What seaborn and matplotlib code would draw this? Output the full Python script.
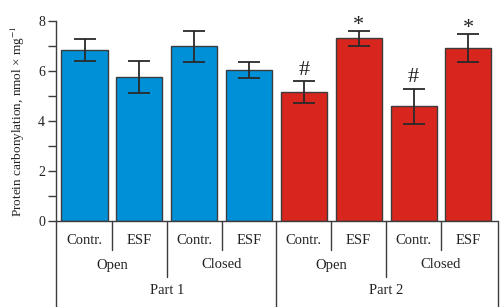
import numpy as np
import pandas as pd
import matplotlib
matplotlib.use("Agg")
import matplotlib.pyplot as plt
import matplotlib.transforms as mtransforms
from matplotlib.ticker import MultipleLocator
import seaborn as sns

# values
groups = ["Contr.", "ESF", "Contr.", "ESF", "Contr.", "ESF", "Contr.", "ESF"]
conditions = ["Open", "Closed", "Open", "Closed"]
parts = ["Part 1", "Part 2"]
means = [6.85, 5.76, 7.0, 6.04, 5.16, 7.32, 4.6, 6.92]
errs = [0.43, 0.65, 0.62, 0.32, 0.44, 0.3, 0.7, 0.55]
marks = ["", "", "", "", "#", "*", "#", "*"]

df = pd.DataFrame({
    "slot": [str(i) for i in range(8)],
    "value": means,
    "part": [parts[0]] * 4 + [parts[1]] * 4,
})

sns.set_style("ticks")
plt.rcParams["font.family"] = ["Liberation Serif", "DejaVu Serif"]
plt.rcParams["mathtext.fontset"] = "stix"

line_c = "#3c3c3c"
fig = plt.figure(figsize=(5, 3.07), dpi=100)
ax = fig.add_axes([56 / 500, 86 / 307, 442 / 500, 200 / 307])

sns.barplot(data=df, x="slot", y="value", hue="part",
            palette=["#0090d8", "#d8261e"], saturation=1, dodge=False,
            width=0.84, edgecolor=line_c, linewidth=1, errorbar=None,
            legend=False, ax=ax)
xpos = np.arange(len(means))
ax.errorbar(xpos, means, yerr=errs, fmt="none", ecolor="#2a2a2a",
            elinewidth=1.3, capsize=8, capthick=1.3, zorder=5)

for x, m, e, t in zip(xpos, means, errs, marks):
    if t:
        ax.annotate(t, (x, m + e), xytext=(0, 1 if t == "#" else -3),
                    textcoords="offset points", ha="center", va="bottom",
                    fontsize=16, color="#222222", annotation_clip=False)

ax.set_xlim(-0.52, 7.54)
ax.set_ylim(0, 8)
ax.yaxis.set_major_locator(MultipleLocator(2))
ax.yaxis.set_minor_locator(MultipleLocator(1))
ax.tick_params(axis="y", which="both", direction="out", length=6, width=1,
               color=line_c, labelsize=10, labelcolor="#222222", pad=2)
ax.set_xticks([])
ax.set_xlabel("")
ax.set_ylabel("Protein carbonylation, nmol × mg$^{-1}$", fontsize=9.5,
              color="#222222", labelpad=8)
for s in ["top", "right", "bottom"]:
    ax.spines[s].set_visible(False)
ax.spines["left"].set_color(line_c)
ax.spines["left"].set_linewidth(1)

# category table below the bars
tr = mtransforms.blended_transform_factory(ax.transData, ax.transAxes)
kw = dict(transform=tr, color=line_c, lw=1, clip_on=False)
ax.plot([-0.52, 7.54], [0, 0], **kw)
ax.plot([-0.52, -0.52], [0, -0.43], **kw)
ax.plot([7.54, 7.54], [0, -0.43], **kw)
for x in [0.5, 2.5, 4.5, 6.5]:
    ax.plot([x, x], [0, -0.145], **kw)
for x in [1.5, 5.5]:
    ax.plot([x, x], [0, -0.28], **kw)
ax.plot([3.5, 3.5], [0, -0.43], **kw)

tkw = dict(transform=tr, ha="center", va="center", fontsize=10.5, color="#222222")
for i, g in enumerate(groups):
    ax.text(i, -0.095, g, **tkw)
for i, c in enumerate(conditions):
    ax.text(2 * i + 0.5, -0.22, c, **tkw)
for i, p in enumerate(parts):
    ax.text(4 * i + 1.5, -0.35, p, **tkw)

fig.savefig("out.png", dpi=100)
